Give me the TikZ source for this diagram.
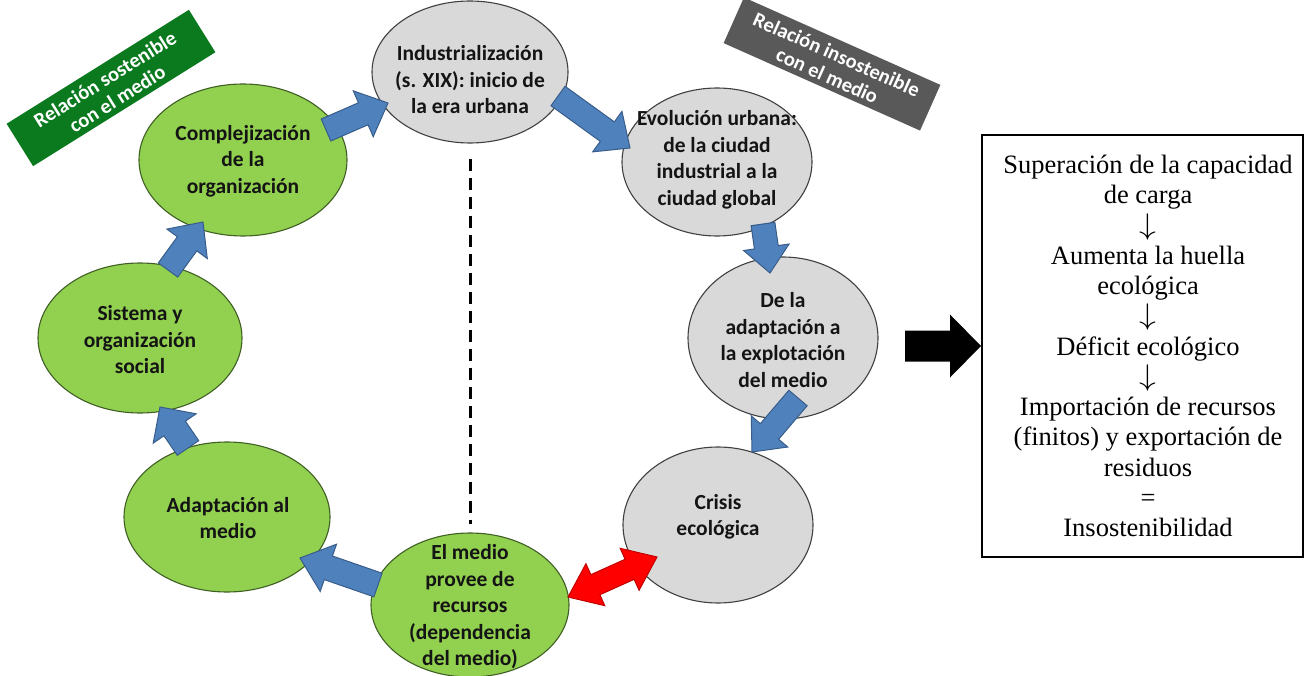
\documentclass[tikz,border=0pt]{standalone}
\usepackage{fontspec}
\setmainfont{Liberation Serif}
\newfontfamily\ellfont{Carlito}
\usetikzlibrary{shapes.geometric,calc}

\definecolor{leaf}{HTML}{92D050}
\definecolor{leafline}{HTML}{3F5F24}
\definecolor{ash}{HTML}{D9D9D9}
\definecolor{ashline}{HTML}{404040}
\definecolor{flowblue}{HTML}{4F81BD}
\definecolor{flowedge}{HTML}{385D8A}
\definecolor{clashred}{HTML}{FF0000}
\definecolor{clashedge}{HTML}{C00000}
\definecolor{taggreen}{HTML}{0B7A1F}
\definecolor{taggray}{HTML}{595959}

\tikzset{
  stage/.style={ellipse, line width=1.1pt, inner sep=0pt},
  greenstage/.style={stage, fill=leaf, draw=leafline},
  graystage/.style={stage, fill=ash, draw=ashline},
  stagetext/.style={align=center, inner sep=0pt, text=black!92,
    font=\ellfont\bfseries\fontsize{21.5}{26.5}\selectfont},
  tagbox/.style={rectangle, minimum width=215pt, minimum height=50pt,
    inner sep=0pt},
  tagtext/.style={align=center, inner sep=0pt, text=white,
    font=\ellfont\bfseries\fontsize{20.5}{23}\selectfont},
  flow/.style={fill=flowblue, draw=flowedge, line width=1pt, line join=miter},
  clash/.style={fill=clashred, draw=clashedge, line width=1pt, line join=miter},
  bigarrow/.style={fill=black},
  divider/.style={line width=3pt, dash pattern=on 12pt off 7pt},
  outcomebox/.style={draw, line width=2pt, minimum width=321pt,
    minimum height=422pt, inner sep=0pt},
  outcometext/.style={align=center, inner sep=0pt,
    font=\fontsize{26.5}{30.25}\selectfont}
}

% block arrow: style, tail, tip, half shaft width, half head width, head length
\newcommand\blockarrow[6]{%
  \coordinate (#2-base) at ($(#3)!#6!(#2)$);
  \path[#1] ($(#2)!#4!90:(#3)$) -- ($(#2-base)!#4!90:(#3)$)
    -- ($(#2-base)!#5!90:(#3)$) -- (#3)
    -- ($(#2-base)!#5!-90:(#3)$) -- ($(#2-base)!#4!-90:(#3)$)
    -- ($(#2)!#4!-90:(#3)$) -- cycle;}

% two-headed block arrow: style, end A, end B, half shaft, half head, head length
\newcommand\doublearrow[6]{%
  \coordinate (#2-ba) at ($(#2)!#6!(#3)$);
  \coordinate (#2-bb) at ($(#3)!#6!(#2)$);
  \path[#1] (#2) -- ($(#2-ba)!#5!90:(#3)$) -- ($(#2-ba)!#4!90:(#3)$)
    -- ($(#2-bb)!#4!-90:(#2)$) -- ($(#2-bb)!#5!-90:(#2)$) -- (#3)
    -- ($(#2-bb)!#5!90:(#2)$) -- ($(#2-bb)!#4!90:(#2)$)
    -- ($(#2-ba)!#4!-90:(#3)$) -- ($(#2-ba)!#5!-90:(#3)$) -- cycle;}

% downward step arrow between the consequences
\newcommand\stepdown{\scalebox{1.35}[1.2]{$\boldsymbol{\downarrow}$}}
\providecommand\boldsymbol[1]{\mathbf{#1}}

\begin{document}
\begin{tikzpicture}[x=1pt,y=-1pt]
\useasboundingbox (0,0) rectangle (1306,676);

% labels of the two halves of the cycle
\node[tagbox, fill=taggreen, rotate=32] (tagsost) at (111,88) {};
\node[tagtext, rotate=32] (tagsost-t) at (111,89) {Relación sostenible\\con el medio};
\node[tagbox, fill=taggray, rotate=-24] (taginsost) at (832,64) {};
\node[tagtext, rotate=-24] (taginsost-t) at (832,65) {Relación insostenible\\con el medio};

% stages of the cycle
\node[graystage, minimum width=196pt, minimum height=142pt] (indus) at (470,72) {};
\node[graystage, minimum width=190pt, minimum height=148pt] (evol) at (717,162) {};
\node[graystage, minimum width=190pt, minimum height=162pt] (explo) at (783,338) {};
\node[graystage, minimum width=190pt, minimum height=156pt] (crisis) at (718,525) {};
\node[greenstage, minimum width=198pt, minimum height=144pt] (medio) at (470,605) {};
\node[greenstage, minimum width=206pt, minimum height=150pt] (adapm) at (227,517) {};
\node[greenstage, minimum width=204pt, minimum height=150pt] (sistema) at (140,338) {};
\node[greenstage, minimum width=208pt, minimum height=152pt] (compl) at (243,160) {};

\node[stagetext] (indus-t) at (470,80) {Industrialización\\(s. XIX): inicio de\\la era urbana};
\node[stagetext] (evol-t) at (717,160) {Evolución urbana:\\de la ciudad\\industrial a la\\ciudad global};
\node[stagetext] (explo-t) at (783,340) {De la\\adaptación a\\la explotación\\del medio};
\node[stagetext] (crisis-t) at (718,517) {Crisis\\ecológica};
\node[stagetext] (medio-t) at (470,607) {El medio\\provee de\\recursos\\(dependencia\\del medio)};
\node[stagetext] (adapm-t) at (228,518) {Adaptación al\\medio};
\node[stagetext] (sistema-t) at (140,340) {Sistema y\\organización\\social};
\node[stagetext] (compl-t) at (243,161) {Complejización\\de la\\organización};

% divider between both relations
\draw[divider, shorten <=15pt, shorten >=8pt] (indus.south) -- (medio.north);

% arrow ends of the cycle
\coordinate (a1) at (326,130); \coordinate (a2) at (388,103);
\coordinate (b1) at (558,96);  \coordinate (b2) at (630,148);
\coordinate (c1) at (763,224); \coordinate (c2) at (770,273);
\coordinate (d1) at (798,398); \coordinate (d2) at (752,452);
\coordinate (e1) at (378,585); \coordinate (e2) at (300,558);
\coordinate (f1) at (188,448); \coordinate (f2) at (160,407);
\coordinate (g1) at (168,270); \coordinate (g2) at (203,222);
\coordinate (r1) at (568,597); \coordinate (r2) at (657,557);

\blockarrow{flow}{a1}{a2}{12pt}{25pt}{27pt}
\blockarrow{flow}{b1}{b2}{12pt}{25pt}{28pt}
\blockarrow{flow}{c1}{c2}{12pt}{23pt}{26pt}
\blockarrow{flow}{d1}{d2}{12pt}{24pt}{27pt}
\blockarrow{flow}{e1}{e2}{12.5pt}{25pt}{30pt}
\blockarrow{flow}{f1}{f2}{13pt}{26pt}{26pt}
\blockarrow{flow}{g1}{g2}{12pt}{25pt}{27pt}
\doublearrow{clash}{r1}{r2}{11pt}{23pt}{30pt}

% consequences of the unsustainable relation
\node[outcomebox] (outcome) at (1142.5,346) {};
\node[outcometext] (outcome-t) at (1148,346)
  {Superación de la capacidad\\de carga\\\stepdown\\Aumenta la huella\\ecológica\\\stepdown\\Déficit ecológico\\\stepdown\\Importación de recursos\\(finitos) y exportación de\\residuos\\=\\Insostenibilidad};

\coordinate (k1) at ($(outcome.west)+(-76,0)$);
\blockarrow{bigarrow}{k1}{outcome.west}{15.5pt}{31.5pt}{31pt}
\end{tikzpicture}
\end{document}
